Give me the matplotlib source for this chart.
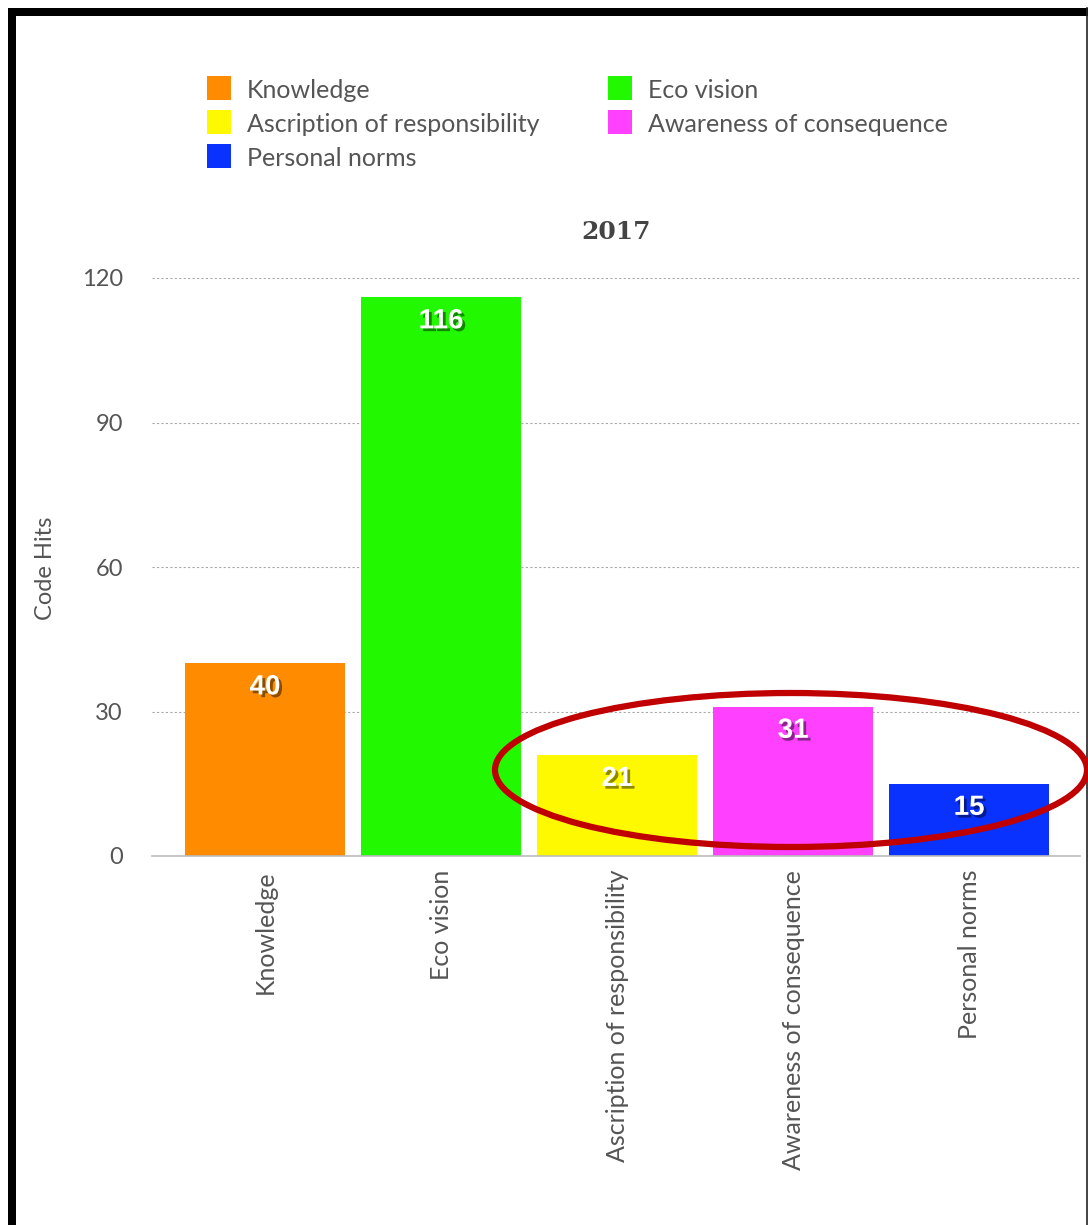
import matplotlib
matplotlib.use("Agg")
import matplotlib.pyplot as plt
import matplotlib.patheffects as pe
from matplotlib.patches import Ellipse, Rectangle
from matplotlib.lines import Line2D
import matplotlib.colors as mcolors

categories = ["Knowledge", "Eco vision", "Ascription of responsibility",
              "Awareness of consequence", "Personal norms"]
values = [40, 116, 21, 31, 15]
colors = ["#FF8C00", "#22F800", "#FFF900", "#FF40FF", "#0A32FF"]
yticks = [0, 30, 60, 90, 120]
title = "2017"
ylabel = "Code Hits"

W, H = 1088, 1225
fig = plt.figure(figsize=(W / 100, H / 100), dpi=100)
fig.patch.set_facecolor("white")

ax = fig.add_axes([152 / W, 1 - 856 / H, (1080 - 152) / W, (856 - 278) / H])
x = list(range(len(categories)))
bars = ax.bar(x, values, width=160 / 176, color=colors, zorder=2)
ax.set_xlim(-0.642, 4.63)
ax.set_ylim(0, 120)
ax.set_yticks(yticks)
ax.set_yticklabels([str(v) for v in yticks])
ax.set_xticks(x)
ax.set_xticklabels(categories, rotation=90, va="top", ha="center")
for s in ["top", "right", "left"]:
    ax.spines[s].set_visible(False)
ax.spines["bottom"].set_color("#bbbbbb")
ax.spines["bottom"].set_linewidth(1.2)
ax.tick_params(axis="both", length=0, colors="#555555", labelfontfamily="Lato")
ax.tick_params(axis="y", pad=21, labelsize=17)
ax.tick_params(axis="x", pad=10, labelsize=18)
for v in yticks[1:]:
    ax.axhline(v, color="#aaaaaa", linestyle=(0, (2, 2)), linewidth=0.8, zorder=1)
ax.set_ylabel(ylabel, fontsize=17, color="#555555", family="Lato", va="center")
ax.yaxis.set_label_coords((45 - 152) / 928, (856 - 568) / 578)
ax.set_title(title, fontsize=18, fontweight="bold", family="DejaVu Serif",
             color="#444444", pad=28)

for xi, v, c in zip(x, values, colors):
    dark = tuple(max(0, ch * 0.5) for ch in mcolors.to_rgb(c))
    ax.text(xi, v - 5, str(v), ha="center", va="center", color="white",
            fontsize=20, fontweight="bold", family="Liberation Sans", zorder=3,
            path_effects=[pe.withSimplePatchShadow(offset=(2, -2),
                                                    shadow_rgbFace=dark, alpha=0.9)])

# legend
leg_items = [(0, 0), (1, 0), (0, 1), (1, 1), (0, 2)]
for (col, row), cat, c in zip(leg_items, categories, colors):
    xs = 207 if col == 0 else 608
    yc = 88 + 34 * row
    fig.patches.append(Rectangle((xs / W, 1 - (yc + 12) / H), 24 / W, 24 / H,
                                 transform=fig.transFigure, facecolor=c,
                                 edgecolor="none"))
    fig.text((xs + 40) / W, 1 - (yc + 2) / H, cat, fontsize=18, color="#555555",
             family="Lato", va="center", ha="left")

# red ellipse annotation
fig.patches.append(Ellipse((791 / W, 1 - 770 / H), 592 / W, 154 / H,
                           transform=fig.transFigure, fill=False,
                           edgecolor="#C00000", linewidth=4.5, zorder=5))

# black frame
fig.patches.append(Rectangle((8 / W, 1 - 16 / H), (W - 8) / W, 8 / H,
                             transform=fig.transFigure, facecolor="black",
                             edgecolor="none"))
fig.patches.append(Rectangle((8 / W, 0), 8 / W, 1 - 8 / H,
                             transform=fig.transFigure, facecolor="black",
                             edgecolor="none"))
fig.lines.append(Line2D([1086.5 / W, 1086.5 / W], [0, 1 - 8 / H],
                        transform=fig.transFigure, color="#222222", linewidth=1.2))

fig.savefig("out.png", dpi=100, facecolor="white")
